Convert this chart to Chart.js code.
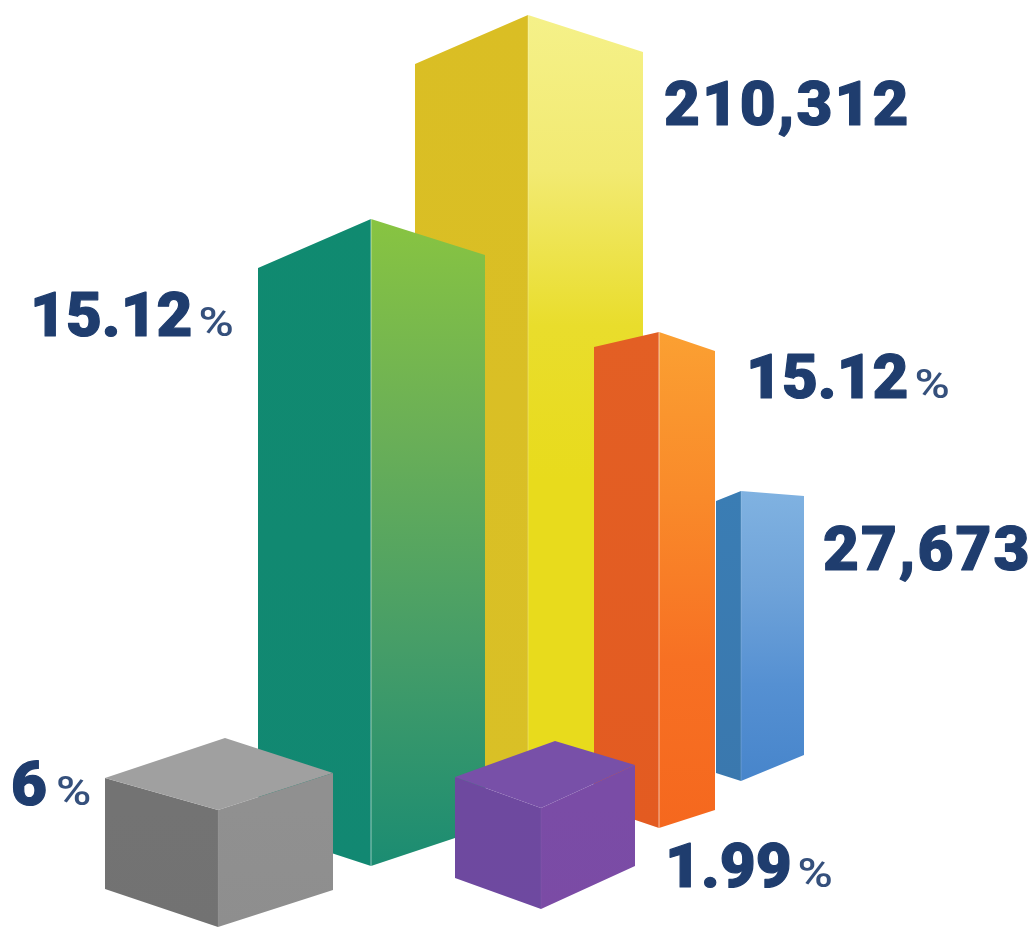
<!DOCTYPE html>
<html>
<head>
<meta charset="utf-8">
<style>
  html, body { margin: 0; padding: 0; background: #ffffff; }
  canvas { display: block; }
</style>
<script src="https://cdn.jsdelivr.net/npm/chart.js@4"></script>
</head>
<body>
<canvas id="chart" width="1036" height="927"></canvas>
<script>
// Series, back to front
const columnNames = ['Yellow', 'Blue', 'Orange', 'Green', 'Purple', 'Gray'];
const columnHeights = [775, 290, 496, 647, 101, 117];
const valueLabels = ['210,312', '27,673', '15.12', '15.12', '1.99', '6'];
const valueUnits = ['', '', '%', '%', '%', '%'];

// Projection of each column: corner x positions, ground level of the front
// edge, and how far the side corners sit from the front edge at top and bottom.
const projection = [
  { xL: 415, xM: 528, xR: 643, ground: 137, topL: 49, topR: 37, footL: 40, footR: 40 },
  { xL: 716, xM: 741, xR: 804, ground: 146, topL: 10, topR: 5, footL: 8, footR: 26 },
  { xL: 594, xM: 659, xR: 715, ground: 99, topL: 15, topR: 19, footL: 22, footR: 18 },
  { xL: 258, xM: 371, xR: 485, ground: 61, topL: 49, topR: 36, footL: 37, footR: 38 },
  { xL: 455, xM: 541, xR: 635, ground: 18, topL: -31, topR: -43, footL: 31, footR: 43, capX: 555, capRise: 67 },
  { xL: 105, xM: 218, xR: 333, ground: 0, topL: -32, topR: -37, footL: 38, footR: 37, capX: 225, capRise: 72 }
];

// Face shading: left face, right face, top face and front edge highlight
const shading = [
  { left: ['#DABE24', '#D9C026'], right: ['#F5F189', '#F2EA72', '#E9DD2C', '#E8DB1C', '#E8DB1C', '#E8DB1C'], edge: 'rgba(255,255,255,0.18)' },
  { left: ['#3A7DB4', '#3A78AE'], right: ['#80B2E1', '#6FA3D9', '#5590D2', '#4785CB'], edge: 'rgba(255,255,255,0.12)' },
  { left: ['#E35F24', '#E35B21'], right: ['#FBA032', '#F98A2A', '#F77023', '#F5681E'], edge: 'rgba(255,255,255,0.4)' },
  { left: ['#108A70', '#128872'], right: ['#88C441', '#6AAF57', '#459D68', '#1B8C72'], edge: 'rgba(255,255,255,0.35)' },
  { left: ['#6E499F', '#6E49A0'], right: ['#7A4CA6', '#7B4BA5'], top: '#7850A8', edge: 'rgba(255,255,255,0.03)' },
  { left: ['#737373', '#727272'], right: ['#909090', '#8E8E8E'], top: '#A0A0A0', edge: 'rgba(255,255,255,0.04)' }
];

// Where each value label starts and sits (x, baseline height above the bottom)
const labelAnchors = [
  { x: 664, y: 802, spacing: 2, size: 62, unitGap: 0 },
  { x: 823, y: 357, spacing: 2, size: 62, unitGap: 0 },
  { x: 746, y: 529, spacing: 0, size: 62, unitGap: 6 },
  { x: 30, y: 591, spacing: 0, size: 62, unitGap: 6 },
  { x: 665, y: 40, spacing: 0, size: 62, unitGap: 6 },
  { x: 11, y: 122, spacing: 0, size: 62, unitGap: 9 }
];

const HEIGHT = 927;
const WIDTH = 1036;
const INK = '#1F3D6E';

// Vertical gradient spanning a face, resolved once the scales are laid out
function faceFill(stops, topValue, bottomValue) {
  return (ctx) => {
    const { chart } = ctx;
    const yScale = chart.scales.y;
    if (!yScale || !chart.chartArea) return stops[0];
    const grad = chart.ctx.createLinearGradient(
      0, yScale.getPixelForValue(topValue), 0, yScale.getPixelForValue(bottomValue));
    stops.forEach((c, i) => grad.addColorStop(i / (stops.length - 1), c));
    return grad;
  };
}

function shapeDataset(label, points, fill, order) {
  return {
    label, data: points, order,
    showLine: true, fill: 'shape', backgroundColor: fill,
    borderWidth: 0, borderColor: 'transparent',
    pointRadius: 0, pointHoverRadius: 0, tension: 0, clip: false
  };
}

const datasets = [];
columnHeights.forEach((height, i) => {
  const p = projection[i];
  const s = shading[i];
  const top = p.ground + height;
  // Chart.js paints higher order values first, so later columns get lower ones.
  const order = (columnHeights.length - i) * 10;

  datasets.push(shapeDataset(columnNames[i] + ' left', [
    { x: p.xL, y: top - p.topL },
    { x: p.xM, y: top },
    { x: p.xM, y: p.ground },
    { x: p.xL, y: p.ground + p.footL }
  ], faceFill(s.left, top, p.ground), order + 2));

  datasets.push(shapeDataset(columnNames[i] + ' right', [
    { x: p.xM, y: top },
    { x: p.xR, y: top - p.topR },
    { x: p.xR, y: p.ground + p.footR },
    { x: p.xM, y: p.ground }
  ], faceFill(s.right, top, p.ground), order + 1));

  if (s.top) {
    datasets.push(shapeDataset(columnNames[i] + ' top', [
      { x: p.xL, y: top - p.topL },
      { x: p.capX, y: top + p.capRise },
      { x: p.xR, y: top - p.topR },
      { x: p.xM, y: top }
    ], s.top, order + 1));
  }

  datasets.push({
    label: columnNames[i] + ' edge',
    data: [{ x: p.xM, y: top }, { x: p.xM, y: p.ground }],
    order,
    showLine: true, fill: false,
    borderColor: s.edge, borderWidth: 1.5,
    pointRadius: 0, pointHoverRadius: 0, tension: 0, clip: false
  });
});

// Value captions, positioned through the chart scales
const valueCaptions = {
  id: 'valueCaptions',
  afterDatasetsDraw(chart) {
    const { ctx, scales } = chart;
    ctx.save();
    ctx.fillStyle = INK;
    ctx.strokeStyle = INK;
    ctx.lineJoin = 'round';
    ctx.textBaseline = 'alphabetic';
    ctx.textAlign = 'left';
    valueLabels.forEach((text, i) => {
      const a = labelAnchors[i];
      const x = scales.x.getPixelForValue(a.x);
      const y = scales.y.getPixelForValue(a.y);
      ctx.font = `900 ${a.size}px Roboto`;
      ctx.letterSpacing = a.spacing + 'px';
      ctx.lineWidth = 1.2;
      ctx.fillText(text, x, y);
      ctx.strokeText(text, x, y);
      const w = ctx.measureText(text).width;
      if (valueUnits[i]) {
        // The percent sign is set smaller, lighter and a little wider.
        ctx.font = '500 40px Roboto';
        ctx.letterSpacing = '0px';
        ctx.save();
        ctx.translate(x + w + a.unitGap, y);
        ctx.scale(1.2, 1);
        ctx.globalAlpha = 0.9;
        ctx.fillText(valueUnits[i], 0, 0);
        ctx.restore();
      }
    });
    ctx.restore();
  }
};

new Chart(document.getElementById('chart'), {
  type: 'scatter',
  data: { datasets },
  plugins: [valueCaptions],
  options: {
    responsive: false,
    animation: false,
    events: [],
    layout: { padding: 0 },
    plugins: {
      legend: { display: false },
      title: { display: false },
      tooltip: { enabled: false }
    },
    scales: {
      x: { type: 'linear', min: 0, max: WIDTH, display: false },
      y: { type: 'linear', min: 0, max: HEIGHT, display: false }
    }
  }
});
</script>
</body>
</html>
